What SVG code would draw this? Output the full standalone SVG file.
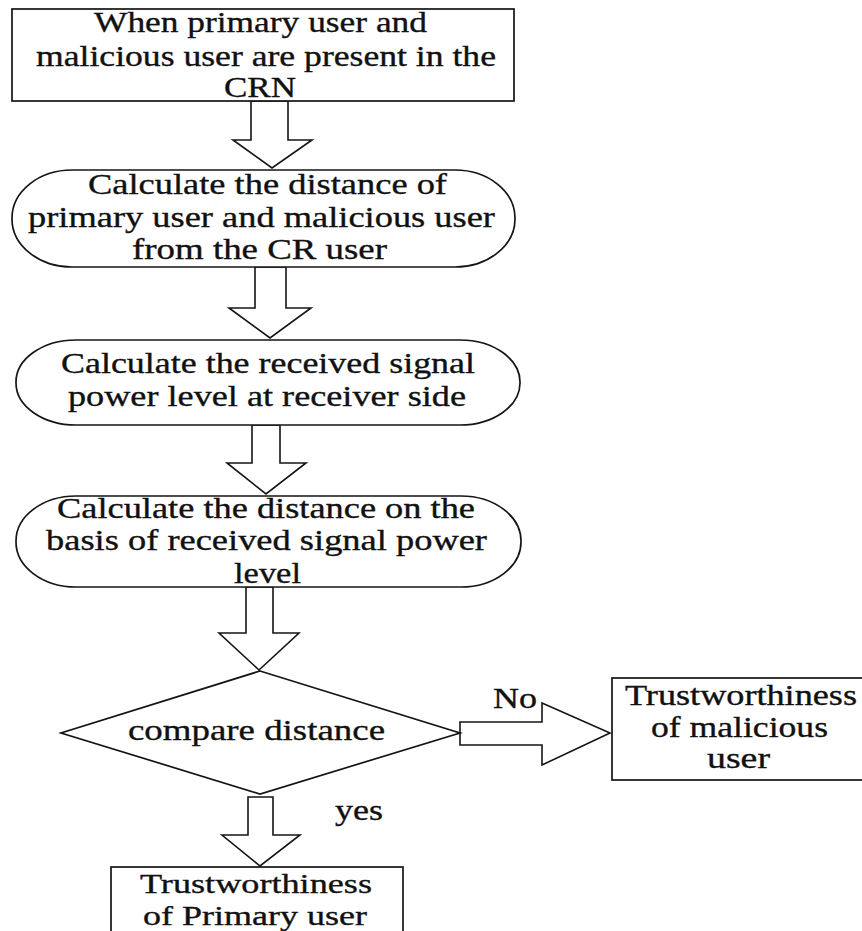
<svg xmlns="http://www.w3.org/2000/svg" width="862" height="931" viewBox="0 0 862 931">
<style>
.s{fill:#fff;stroke:#151515;stroke-width:1.7}
.a{fill:#fff;stroke:#151515;stroke-width:1.6;stroke-linejoin:miter}
text{font-family:"Times New Roman","Liberation Serif",serif;font-size:30px;fill:#111;stroke:#111;stroke-width:0.35}
.sm{font-size:28px}
</style>
<rect width="862" height="931" fill="#fff"/>
<g id="connectors">
<polygon class="a" points="251,101 251,140 233,140 272,168 312,140 288,140 288,101"/>
<polygon class="a" points="255,267 255,308 229,308 270,338 311,308 286,308 286,267"/>
<polygon class="a" points="252,425 252,463 227,463 266,494 306,463 280,463 280,425"/>
<polygon class="a" points="246,587 246,633 219,633 259,670 299,633 273,633 273,587"/>
<polygon class="a" points="460,722 542,722 542,703 610,733 542,765 542,745 460,745"/>
<polygon class="a" points="248,797 248,835 222,835 260,866 300,835 273,835 273,797"/>
<text x="493" y="708" textLength="44" lengthAdjust="spacingAndGlyphs">No</text>
<text x="335" y="820" textLength="48" lengthAdjust="spacingAndGlyphs">yes</text>
</g>
<g id="start">
<rect class="s" x="12" y="9" width="502" height="92"/>
<text x="94" y="32" textLength="333" lengthAdjust="spacingAndGlyphs">When primary user and</text>
<text x="36" y="66" textLength="460" lengthAdjust="spacingAndGlyphs">malicious user are present in the</text>
<text x="224" y="97" textLength="72" lengthAdjust="spacingAndGlyphs">CRN</text>
</g>
<g id="calc-distance">
<rect class="s" x="12" y="170" width="503" height="97" rx="60" ry="48"/>
<text x="88" y="194" textLength="359" lengthAdjust="spacingAndGlyphs">Calculate the distance of</text>
<text x="28" y="227" textLength="467" lengthAdjust="spacingAndGlyphs">primary user and malicious user</text>
<text x="132" y="259" textLength="255" lengthAdjust="spacingAndGlyphs">from the CR user</text>
</g>
<g id="calc-power">
<rect class="s" x="16" y="340" width="504" height="85" rx="60" ry="42"/>
<text x="61" y="373" textLength="414" lengthAdjust="spacingAndGlyphs">Calculate the received signal</text>
<text x="68" y="406" textLength="398" lengthAdjust="spacingAndGlyphs">power level at receiver side</text>
</g>
<g id="calc-distance-power">
<rect class="s" x="16" y="496" width="505" height="91" rx="60" ry="45"/>
<text x="57" y="518" textLength="418" lengthAdjust="spacingAndGlyphs">Calculate the distance on the</text>
<text x="46" y="550" textLength="441" lengthAdjust="spacingAndGlyphs">basis of received signal power</text>
<text x="234" y="583" textLength="67" lengthAdjust="spacingAndGlyphs">level</text>
</g>
<g id="compare">
<polygon class="s" points="260,671 460,733 260,794 61,733"/>
<text x="128" y="740" textLength="257" lengthAdjust="spacingAndGlyphs">compare distance</text>
</g>
<g id="malicious">
<rect class="s" x="612" y="678" width="256" height="102"/>
<text x="625" y="705" textLength="232" lengthAdjust="spacingAndGlyphs">Trustworthiness</text>
<text x="651" y="737" textLength="177" lengthAdjust="spacingAndGlyphs">of malicious</text>
<text x="707" y="768" textLength="63" lengthAdjust="spacingAndGlyphs">user</text>
</g>
<g id="primary">
<rect class="s" x="111" y="867" width="292" height="80"/>
<text class="sm" x="140" y="893" textLength="232" lengthAdjust="spacingAndGlyphs">Trustworthiness</text>
<text class="sm" x="143" y="925" textLength="224" lengthAdjust="spacingAndGlyphs">of Primary user</text>
</g>
</svg>
